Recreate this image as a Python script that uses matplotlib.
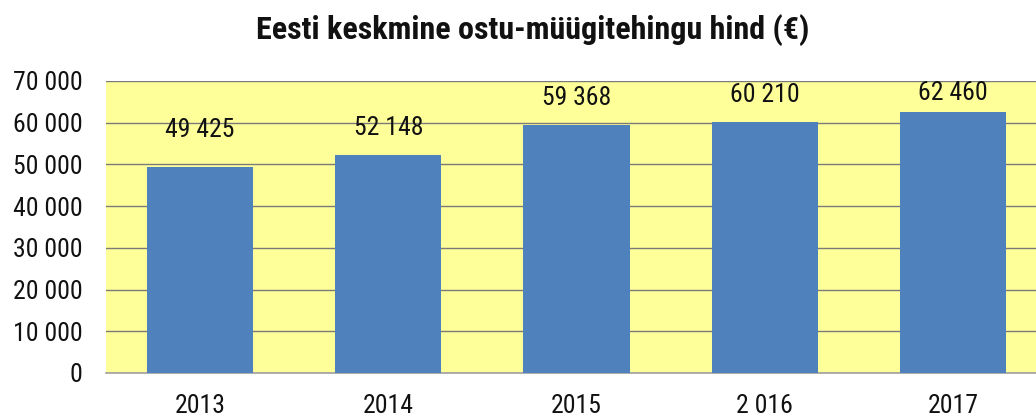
import matplotlib
matplotlib.use("Agg")
import matplotlib.pyplot as plt
from matplotlib import font_manager
from matplotlib.ticker import FuncFormatter

years = ["2013", "2014", "2015", "2 016", "2017"]
prices = [49425, 52148, 59368, 60210, 62460]
label_y = [58250, 58700, 65900, 66600, 67100]
y_ticks = [0, 10000, 20000, 30000, 40000, 50000, 60000, 70000]

installed = {f.name for f in font_manager.fontManager.ttflist}
font = "DejaVu Sans"
for cand in ["Roboto Condensed", "Liberation Sans Narrow", "Roboto"]:
    if cand in installed:
        font = cand
        break
plt.rcParams["font.family"] = [font, "DejaVu Sans"]


def spaced(v, pos=None):
    return f"{int(v):,}".replace(",", " ")


fig = plt.figure(figsize=(10.36, 4.18), dpi=100)
ax = fig.add_axes([106 / 1036, 45 / 418, 941 / 1036, 292 / 418])
ax.set_facecolor("#FFFF99")

x = range(len(years))
ax.bar(x, prices, width=0.565, color="#4F81BD", zorder=3)
for i, (v, ly) in enumerate(zip(prices, label_y)):
    ax.text(i, ly, spaced(v), ha="center", va="center", fontsize=18.5, color="#111111", zorder=4)

ax.set_xlim(-0.5, len(years) - 0.5)
ax.set_ylim(0, 70000)
ax.set_yticks(y_ticks)
ax.yaxis.set_major_formatter(FuncFormatter(spaced))
ax.set_xticks(list(x))
ax.set_xticklabels(years)
ax.yaxis.grid(True, color="#7a7a7a", linewidth=1, zorder=1)
ax.tick_params(axis="both", length=0, labelsize=18.5, colors="#111111")
ax.tick_params(axis="y", pad=17)
ax.tick_params(axis="x", pad=15)
for s in ["top", "right", "left"]:
    ax.spines[s].set_visible(False)
ax.spines["bottom"].set_color("#a0a0a0")
ax.spines["bottom"].set_linewidth(1.2)

fig.text(533 / 1036, 1 - 30 / 418, "Eesti keskmine ostu-müügitehingu hind (€)",
         ha="center", va="center", fontsize=23, fontweight="bold", color="#111111")

fig.savefig("out.png", dpi=100)
